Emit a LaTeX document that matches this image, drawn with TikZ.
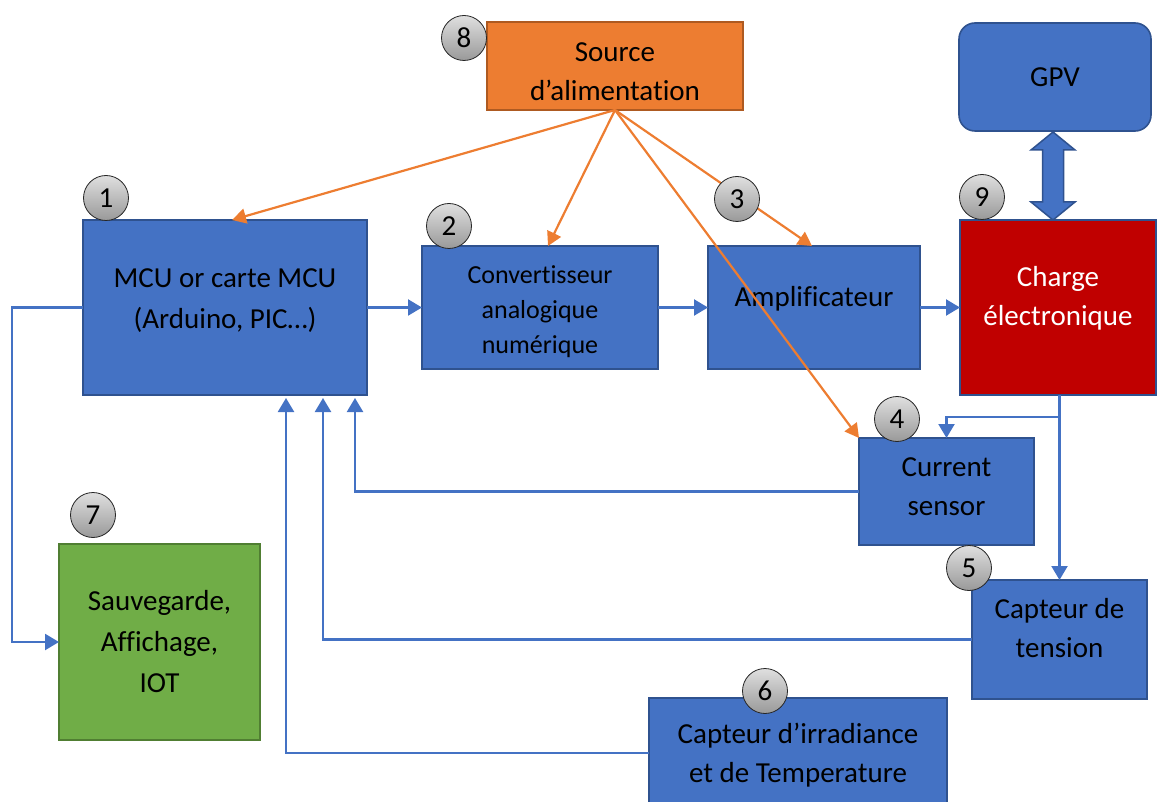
\documentclass[tikz,border=0pt]{standalone}
\usepackage{fontspec}
\setmainfont[Ligatures=NoCommon]{Carlito}
\usetikzlibrary{arrows.meta,calc}
\definecolor{obBlue}{HTML}{4472C4}
\definecolor{bdBlue}{HTML}{2F528F}
\definecolor{obOrange}{HTML}{ED7D31}
\definecolor{bdOrange}{HTML}{AE5A21}
\definecolor{obRed}{HTML}{C00000}
\definecolor{obGreen}{HTML}{70AD47}
\definecolor{bdGreen}{HTML}{507E32}
\begin{document}
\begin{tikzpicture}[x=1pt,y=-1pt,
  box/.style={draw=bdBlue, line width=1.6pt, fill=obBlue, anchor=north west, align=center,
    font=\fontsize{29}{39}\selectfont, inner sep=0pt, outer sep=0pt},
  txt/.style={align=center, font=\fontsize{29}{39}\selectfont, inner sep=0pt},
  raise/.style={text depth=#1},
  num/.style={circle, draw=black!85, line width=0.8pt, top color=gray!25, bottom color=gray!80,
    minimum size=45pt, inner sep=0pt, font=\fontsize{29}{29}\selectfont},
  bl/.style={draw=obBlue, line width=2.2pt},
  blarr/.style={bl, -{Triangle[width=16pt,length=14pt]}},
  orarr/.style={draw=obOrange, line width=2.2pt, -{Triangle[width=15pt,length=14pt]}},
]
\useasboundingbox (0,0) rectangle (1157,802);

% boxes
\node[box, fill=obOrange, draw=bdOrange, minimum width=256pt, minimum height=88pt] (src) at (487,22) {};
\node[txt] (srct) at ($(src.center)+(0,6)$) {Source\\d’alimentation};
\node[box, minimum width=284pt, minimum height=175pt, raise=18pt, font=\fontsize{29}{41}\selectfont] (mcu) at (83,220) {MCU or carte MCU\\(Arduino, PIC…)};
\node[box, minimum width=236pt, minimum height=123pt] (adc) at (422,246) {};
\node[txt, font=\fontsize{26}{35}\selectfont] (adct) at ($(adc.center)+(0,4)$) {Convertisseur\\analogique\\numérique};
\node[box, minimum width=212pt, minimum height=123pt, raise=22pt] (amp) at (708,246) {Amplificateur};
\node[box, fill=obRed, text=white, minimum width=196pt, minimum height=175pt, raise=24pt] (chg) at (960,220) {Charge\\électronique};
\node[box, rounded corners=16pt, minimum width=192pt, minimum height=108pt] (gpv) at (959,23) {GPV};
\node[box, minimum width=175pt, minimum height=107pt, raise=10pt] (cur) at (859,438) {Current\\sensor};
\node[box, minimum width=175pt, minimum height=119pt, raise=23pt] (ten) at (972,580) {Capteur de\\tension};
\node[box, minimum width=298pt, minimum height=110pt, raise=1pt] (irr) at (649,698) {Capteur d’irradiance\\et de Temperature};
\node[box, fill=obGreen, draw=bdGreen, minimum width=201pt, minimum height=196pt, font=\fontsize{29}{41}\selectfont] (sav) at (59,544) {Sauvegarde,\\Affichage,\\IOT};

% double arrow GPV <-> Charge
\draw[fill=obBlue, draw=bdBlue, line width=1.5pt, line join=miter]
  (1053,132) -- (1075,150) -- (1063.5,150) -- (1063.5,202) -- (1075,202) -- (1053,220)
  -- (1031,202) -- (1042.5,202) -- (1042.5,150) -- (1031,150) -- cycle;

% blue connectors
\draw[blarr] (mcu.east) -- (adc.west);
\draw[blarr] (adc.east) -- (amp.west);
\draw[blarr] (amp.east) -- (chg.west);
\coordinate (lft) at (12,642);
\draw[blarr] (mcu.west) -| (lft) -- (sav.west);
\coordinate (fc) at (355,398);
\coordinate (ft) at (323,398);
\coordinate (fi) at (286,398);
\draw[blarr] (cur.west) -| (fc);
\draw[blarr] (ten.west) -| (ft);
\draw[blarr] (irr.west) -| (fi);
\draw[blarr] (chg.south -| ten.north) -- (ten.north);
\draw[blarr] ($(chg.south -| ten.north)+(0,22)$) -| (cur.north);

% orange connectors
\draw[orarr] (src.south) -- ($(mcu.north west)+(149,0)$);
\draw[orarr] (src.south) -- ($(adc.north west)+(126,0)$);
\draw[orarr] (src.south) -- ($(amp.north west)+(104,0)$);
\draw[orarr] (src.south) -- (cur.north west);

% numbers
\node[num] (n8) at (464,38) {8};
\node[num] (n1) at (106,198) {1};
\node[num] (n2) at (449,226) {2};
\node[num] (n3) at (737,199) {3};
\node[num] (n9) at (982,197) {9};
\node[num] (n4) at (897,419) {4};
\node[num] (n5) at (969,568) {5};
\node[num] (n6) at (765,691) {6};
\node[num] (n7) at (93,515) {7};
\end{tikzpicture}
\end{document}
